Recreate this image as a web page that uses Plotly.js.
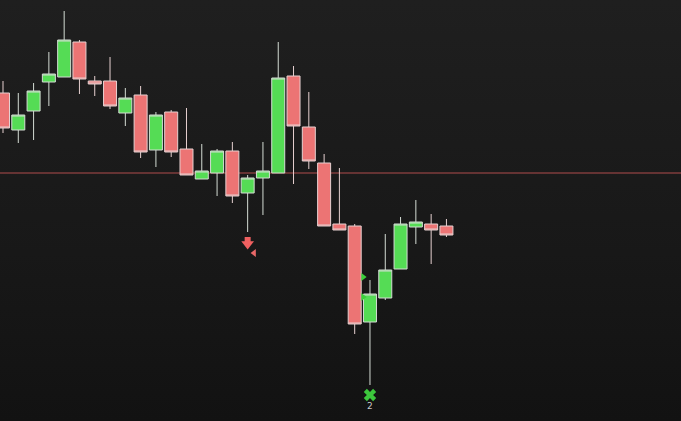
<!DOCTYPE html>
<html>
<head>
<meta charset="utf-8">
<script src="https://cdn.plot.ly/plotly-3.0.1.min.js"></script>
<style>
  html, body { margin: 0; padding: 0; width: 681px; height: 421px; overflow: hidden;
    background: linear-gradient(to bottom, #1f1f1f 0%, #181818 60%, #121212 100%); }
  #chart { width: 681px; height: 421px; }
</style>
</head>
<body>
<div id="chart"></div>
<script>
// Bar index (time) and OHLC values (arbitrary price units)
const bars  = [0,1,2,3,4,5,6,7,8,9,10,11,12,13,14,15,16,17,18,19,20,21,22,23,24,25,26,27,28,29];
const open  = [328,291,310,339,344,379,340,340,308,326,271,309,272,242,248,270,228,243,248,345,294,258,197,195, 99,123,152,194,197,195];
const high  = [340,328,338,369,410,381,345,364,333,335,309,311,313,277,272,279,246,279,379,355,329,267,253,197,141,187,204,221,207,202];
const low   = [288,278,281,315,344,327,325,312,295,263,254,264,246,242,225,218,189,206,248,237,252,195,191, 87, 36,121,152,177,157,184];
const close = [293,306,330,347,381,342,337,315,323,269,306,269,246,250,270,225,243,250,343,295,260,195,191, 97,127,151,197,199,191,186];

// Horizontal level line
const levelValue = 248;

// Signal markers
const sellArrowX = [16];
const sellArrowShaftY = [181];
const sellArrowHeadY = [177];
const sellTickX = [16.42];
const sellTickY = [168];
const buyTickX = [23.55, 23.55];
const buyTickY = [144, 124];
const crossX = [24];
const crossY = [26];
const crossLabel = ["2"];
const crossLabelY = [14];

const traces = [
  {
    type: 'candlestick',
    x: bars, open: open, high: high, low: low, close: close,
    increasing: { line: { color: '#d4dcd4', width: 1 }, fillcolor: '#55dc55' },
    decreasing: { line: { color: '#e6d0d0', width: 1 }, fillcolor: '#ec7474' },
    whiskerwidth: 0,
    showlegend: false,
    hoverinfo: 'skip'
  },
  {
    type: 'scatter', mode: 'markers', x: sellArrowX, y: sellArrowShaftY,
    marker: { symbol: 'square', size: 6, color: '#f06060' }, showlegend: false, hoverinfo: 'skip'
  },
  {
    type: 'scatter', mode: 'markers', x: sellArrowX, y: sellArrowHeadY,
    marker: { symbol: 'triangle-down', size: 11, color: '#f06060' }, showlegend: false, hoverinfo: 'skip'
  },
  {
    type: 'scatter', mode: 'markers', x: sellTickX, y: sellTickY,
    marker: { symbol: 'triangle-left', size: 7, color: '#e86868' }, showlegend: false, hoverinfo: 'skip'
  },
  {
    type: 'scatter', mode: 'markers', x: buyTickX, y: buyTickY,
    marker: { symbol: 'triangle-right', size: 7, color: '#3ccf3c' }, showlegend: false, hoverinfo: 'skip'
  },
  {
    type: 'scatter', mode: 'markers', x: crossX, y: crossY,
    marker: { symbol: 'x', size: 11, color: '#3cc63c' }, showlegend: false, hoverinfo: 'skip'
  },
  {
    type: 'scatter', mode: 'text', x: crossX, y: crossLabelY, text: crossLabel,
    textfont: { family: 'DejaVu Sans, sans-serif', size: 9, color: '#c8c8c8' },
    showlegend: false, hoverinfo: 'skip'
  }
];

const layout = {
  width: 681, height: 421,
  margin: { l: 0, r: 0, t: 0, b: 0, pad: 0 },
  paper_bgcolor: 'rgba(0,0,0,0)',
  plot_bgcolor: 'rgba(0,0,0,0)',
  showlegend: false,
  boxgap: 0.15,
  boxgroupgap: 0,
  xaxis: { range: [-0.196, 44.34], visible: false, showgrid: false, zeroline: false, rangeslider: { visible: false }, fixedrange: true },
  yaxis: { range: [0, 421], visible: false, showgrid: false, zeroline: false, fixedrange: true },
  shapes: [
    { type: 'line', xref: 'paper', x0: 0, x1: 1, yref: 'y', y0: levelValue, y1: levelValue,
      line: { color: '#b04c4c', width: 1 }, layer: 'below' }
  ]
};

Plotly.newPlot('chart', traces, layout, { staticPlot: true, displayModeBar: false });
</script>
</body>
</html>
